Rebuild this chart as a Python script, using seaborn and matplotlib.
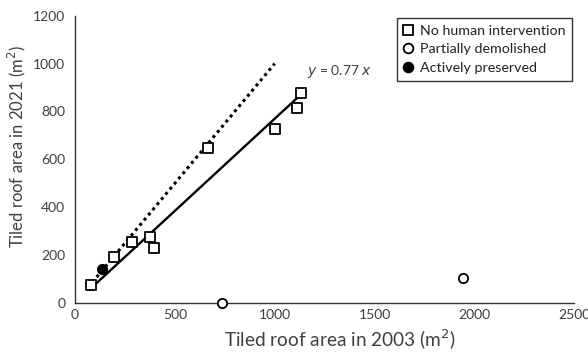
import matplotlib
matplotlib.use("Agg")
import matplotlib.pyplot as plt
import seaborn as sns
import pandas as pd
import numpy as np
from matplotlib.lines import Line2D

# Data
x_none = [80, 197, 287, 376, 396, 668, 1002, 1112, 1132]
y_none = [75, 194, 254, 275, 229, 649, 727, 815, 879]
x_demol = [738, 1941]
y_demol = [0, 103]
x_pres = [134]
y_pres = [143]
categories = ["No human intervention", "Partially demolished", "Actively preserved"]
slope = 0.77
xticks = [0, 500, 1000, 1500, 2000, 2500]
yticks = [0, 200, 400, 600, 800, 1000, 1200]

df = pd.DataFrame({
    "x": x_none + x_demol + x_pres,
    "y": y_none + y_demol + y_pres,
    "cat": [categories[0]] * len(x_none) + [categories[1]] * len(x_demol) + [categories[2]] * len(x_pres),
})

sns.set_style("white")
plt.rcParams["font.family"] = ["Lato", "DejaVu Sans"]
txt = "#404040"

fig = plt.figure(figsize=(5.88, 3.58), dpi=100)
ax = fig.add_axes([0.1276, 0.1536, 0.849, 0.8025])

# lines
xl = np.array([65, 1000])
ax.plot(xl, xl, color="black", linestyle=(0, (1, 1.2)), linewidth=2.2, zorder=1)
xr = np.array([72, 1125])
ax.plot(xr, slope * xr, color="black", linewidth=1.7, zorder=1)

palette = {categories[0]: "white", categories[1]: "white", categories[2]: "black"}
markers = {categories[0]: "s", categories[1]: "o", categories[2]: "o"}
sizes = {categories[0]: 60, categories[1]: 45, categories[2]: 45}
for c in categories:
    sub = df[df["cat"] == c]
    sns.scatterplot(data=sub, x="x", y="y", ax=ax, marker=markers[c], color=palette[c],
                    edgecolor="black", linewidth=1.3, s=sizes[c], zorder=3, clip_on=False, legend=False)

ax.text(1160, 965, r"$\it{y}$ = 0.77 $\it{x}$", fontsize=10, color=txt, va="center")

ax.set_xlim(0, 2500)
ax.set_ylim(0, 1200)
ax.set_xticks(xticks)
ax.set_yticks(yticks)
ax.set_xlabel("Tiled roof area in 2003 (m$^2$)", fontsize=13.7, color=txt)
ax.set_ylabel("Tiled roof area in 2021 (m$^2$)", fontsize=12, color=txt)
ax.xaxis.set_label_coords(0.531, -0.085)
ax.yaxis.set_label_coords(-0.094, 0.544)
ax.tick_params(axis="x", direction="in", length=5, width=1, colors="#333333", labelcolor=txt, labelsize=10, pad=4)
ax.tick_params(axis="y", direction="out", length=5, width=1, colors="#333333", labelcolor=txt, labelsize=10, pad=2)
for s in ["top", "right"]:
    ax.spines[s].set_visible(False)
for s in ["left", "bottom"]:
    ax.spines[s].set_color("#333333")
    ax.spines[s].set_linewidth(1)

handles = [
    Line2D([], [], marker="s", linestyle="", markerfacecolor="white", markeredgecolor="black", markersize=7.5, markeredgewidth=1.3),
    Line2D([], [], marker="o", linestyle="", markerfacecolor="white", markeredgecolor="black", markersize=7, markeredgewidth=1.3),
    Line2D([], [], marker="o", linestyle="", markerfacecolor="black", markeredgecolor="black", markersize=7, markeredgewidth=1.3),
]
leg = ax.legend(handles, categories, loc="upper right", bbox_to_anchor=(0.996, 0.993), borderaxespad=0,
                fontsize=10.3, frameon=True, fancybox=False, edgecolor="black", handlelength=0.6,
                handletextpad=0.5, borderpad=0.5, labelspacing=0.45)
leg.get_frame().set_linewidth(1)
for t in leg.get_texts():
    t.set_color("#222222")

fig.savefig("out.png", dpi=100)
